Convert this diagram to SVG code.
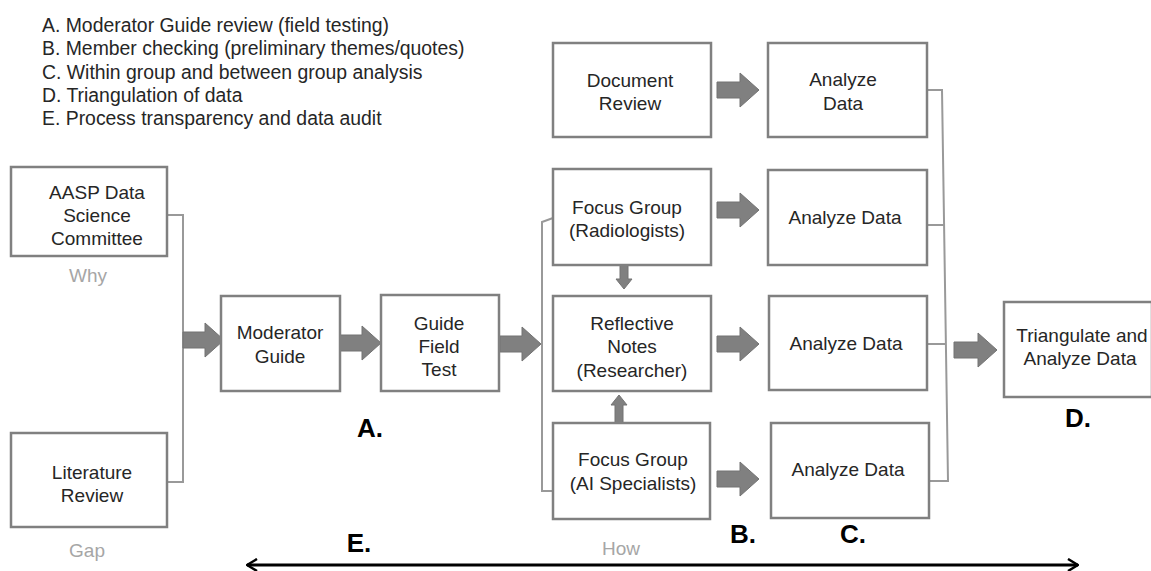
<svg xmlns="http://www.w3.org/2000/svg" width="1151" height="571" viewBox="0 0 1151 571">
<style>
text{font-family:"Liberation Sans",Arial,sans-serif;fill:#262626}
.lg{font-size:19.4px}
.bt{font-size:19px;text-anchor:middle}
.gr{font-size:19px;text-anchor:middle;fill:#a6a6a6}
.lt{font-size:26px;font-weight:bold;text-anchor:middle;fill:#000}
.box{fill:#fff;stroke:#808080;stroke-width:2.5}
.ln{fill:none;stroke:#999;stroke-width:2}
.blk{fill:#808080;stroke:#737373;stroke-width:1}
</style>
<defs>
<marker id="chev" viewBox="0 0 12 14" refX="11" refY="7" markerWidth="12" markerHeight="14" markerUnits="userSpaceOnUse" orient="auto-start-reverse">
<path d="M1,1 L11,7 L1,13" fill="none" stroke="#000" stroke-width="2.5"/>
</marker>
</defs>
<g id="legend" class="lg">
<text x="42" y="32">A. Moderator Guide review (field testing)</text>
<text x="42" y="55">B. Member checking (preliminary themes/quotes)</text>
<text x="42" y="79">C. Within group and between group analysis</text>
<text x="42" y="102">D. Triangulation of data</text>
<text x="42" y="125">E. Process transparency and data audit</text>
</g>
<g id="connectors">
<polyline class="ln" points="167,215 183,215 183,482 167,482"/>
<polyline class="ln" points="553,218 542,222 542,491 553,491"/>
<polyline class="ln" points="927,90 942,90 948,481 930,481"/>
<line class="ln" x1="927" y1="225" x2="945" y2="225"/>
<line class="ln" x1="927" y1="344" x2="946" y2="344"/>
<polygon class="blk" points="183,332 205,332 205,323 224,340 205,357 205,348 183,348"/>
<polygon class="blk" points="340,335 362,335 362,326 381,343 362,360 362,351 340,351"/>
<polygon class="blk" points="500,336 522,336 522,327 541,344 522,361 522,352 500,352"/>
<polygon class="blk" points="717,82 740,82 740,73 759,90 740,107 740,98 717,98"/>
<polygon class="blk" points="717,202 740,202 740,193 759,210 740,227 740,218 717,218"/>
<polygon class="blk" points="717,336 740,336 740,327 759,344 740,361 740,352 717,352"/>
<polygon class="blk" points="717,471 740,471 740,462 759,479 740,496 740,487 717,487"/>
<polygon class="blk" points="954,342 978,342 978,333 997,350 978,367 978,358 954,358"/>
<polygon class="blk" points="620,265 628,265 628,279 632,279 624,289 616,279 620,279"/>
<polygon class="blk" points="615,424 623,424 623,405 627,405 619,395 611,405 615,405"/>
<line x1="247" y1="565" x2="1078" y2="565" stroke="#000" stroke-width="3" marker-start="url(#chev)" marker-end="url(#chev)"/>
</g>
<g id="aasp">
<rect class="box" x="11" y="167" width="156" height="89"/>
<text class="bt" x="97" y="199">AASP Data</text>
<text class="bt" x="97" y="222">Science</text>
<text class="bt" x="97" y="245">Committee</text>
<text class="gr" x="88" y="282">Why</text>
</g>
<g id="literature">
<rect class="box" x="11" y="433" width="156" height="94"/>
<text class="bt" x="92" y="479">Literature</text>
<text class="bt" x="92" y="502">Review</text>
<text class="gr" x="87" y="557">Gap</text>
</g>
<g id="moderator">
<rect class="box" x="221" y="296" width="119" height="95"/>
<text class="bt" x="280" y="339">Moderator</text>
<text class="bt" x="280" y="363">Guide</text>
<text class="lt" x="370" y="437">A.</text>
</g>
<g id="fieldtest">
<rect class="box" x="381" y="295" width="118" height="96"/>
<text class="bt" x="439" y="330">Guide</text>
<text class="bt" x="439" y="353">Field</text>
<text class="bt" x="439" y="376">Test</text>
</g>
<g id="docreview">
<rect class="box" x="553" y="43" width="158" height="94"/>
<text class="bt" x="630" y="87">Document</text>
<text class="bt" x="630" y="110">Review</text>
</g>
<g id="fgrad">
<rect class="box" x="553" y="169" width="158" height="96"/>
<text class="bt" x="627" y="214">Focus Group</text>
<text class="bt" x="627" y="237">(Radiologists)</text>
</g>
<g id="reflective">
<rect class="box" x="553" y="296" width="158" height="95"/>
<text class="bt" x="632" y="330">Reflective</text>
<text class="bt" x="632" y="353">Notes</text>
<text class="bt" x="632" y="377">(Researcher)</text>
</g>
<g id="fgai">
<rect class="box" x="553" y="423" width="157" height="96"/>
<text class="bt" x="633" y="466">Focus Group</text>
<text class="bt" x="633" y="490">(AI Specialists)</text>
<text class="gr" x="621" y="555">How</text>
<text class="lt" x="743" y="543">B.</text>
</g>
<g id="analyze1">
<rect class="box" x="768" y="43" width="159" height="94"/>
<text class="bt" x="843" y="86">Analyze</text>
<text class="bt" x="843" y="110">Data</text>
</g>
<g id="analyze2">
<rect class="box" x="768" y="170" width="159" height="95"/>
<text class="bt" x="845" y="224">Analyze Data</text>
</g>
<g id="analyze3">
<rect class="box" x="769" y="296" width="158" height="94"/>
<text class="bt" x="846" y="350">Analyze Data</text>
</g>
<g id="analyze4">
<rect class="box" x="771" y="423" width="158" height="95"/>
<text class="bt" x="848" y="476">Analyze Data</text>
<text class="lt" x="853" y="543">C.</text>
</g>
<g id="triangulate">
<rect class="box" x="1004" y="302" width="148" height="95"/>
<text class="bt" x="1082" y="342">Triangulate and</text>
<text class="bt" x="1080" y="365">Analyze Data</text>
<text class="lt" x="1078" y="427">D.</text>
</g>
<g id="audit">
<text class="lt" x="359" y="552">E.</text>
</g>
</svg>
